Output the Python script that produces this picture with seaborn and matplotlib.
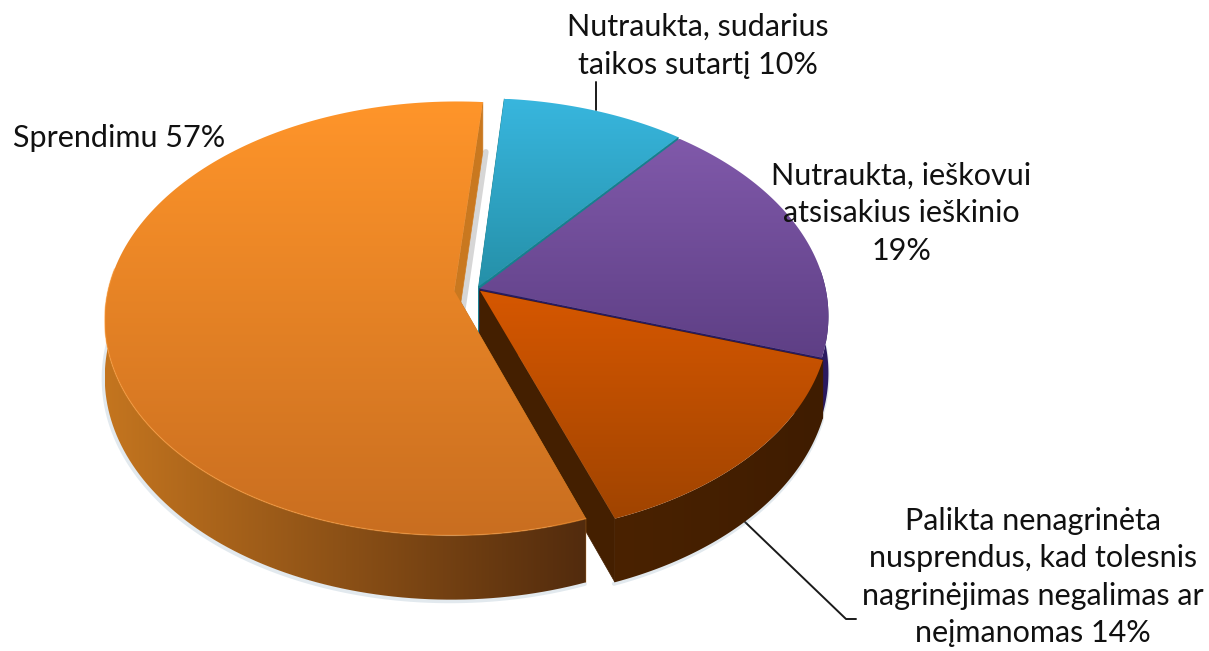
import numpy as np
import seaborn as sns
from matplotlib import pyplot as plt
from matplotlib.patches import Polygon

# slice shares measured from the drawn angles (the labels round them),
# counter-clockwise from the blue one
names = ["blue", "orange", "red", "purple"]
values = [9.6, 56.9, 14.4, 19.1]
explode = [0.012, 0.066, 0.012, 0.008]
start_angle = 50.6

top_colors = {
    "blue": ("#38b6de", "#2590a8"),
    "orange": ("#ff952a", "#c96e20"),
    "red": ("#d65700", "#a04400"),
    "purple": ("#8059aa", "#5e3f85"),
}
wall_colors = {
    "blue": ("#15808f", "#15808f"),
    "orange": ("#c4751f", "#522b0d"),
    "red": ("#4a2200", "#3f1c00"),
    "purple": ("#2a1a60", "#2a1a60"),
}

labels = [
    "Nutraukta, sudarius\ntaikos sutartį 10%",
    "Sprendimu 57%",
    "Palikta nenagrinėta\nnusprendus, kad tolesnis\nnagrinėjimas negalimas ar\nneįmanomas 14%",
    "Nutraukta, ieškovui\natsisakius ieškinio\n19%",
]
label_pos = [(698, 46), (119, 138), (1033, 577), (901, 213)]

# pixel placement of the tilted disc
CX, CY = 477, 289
RX, RY = 346, 213
TILT = 0.127
DEPTH = 56


def project(x, y):
    w = 1 + TILT * y
    return CX + RX * x / w, CY - RY * y / w


def drop(x, y):
    w = 1 + TILT * y
    return DEPTH / w


def slice_edges(wedge):
    t = np.radians(np.linspace(wedge.theta1, wedge.theta2, 160))
    ox, oy = wedge.center
    return ox + np.cos(t), oy + np.sin(t), ox, oy


def gradient_fill(ax, verts, colors, z, horizontal=False):
    grad = np.linspace(0, 1, 256).reshape(-1, 1)
    if horizontal:
        grad = grad.T
    cmap = sns.blend_palette(colors, as_cmap=True)
    im = ax.imshow(grad, cmap=cmap, aspect="auto", zorder=z,
                   extent=(verts[:, 0].min(), verts[:, 0].max(),
                           verts[:, 1].max(), verts[:, 1].min()))
    im.set_clip_path(Polygon(verts, transform=ax.transData))


def draw_slice(ax, wedge, name, z):
    x, y, ox, oy = slice_edges(wedge)
    sx, sy = project(x, y)
    dy = drop(x, y)
    ax_, ay_ = project(ox, oy)
    a_drop = drop(ox, oy)
    front = y < 0.1

    # straight walls running to the centre, the purple one only on its lower edge
    wall = wall_colors[name]
    side = sns.blend_palette(wall, 3)[1]
    if name == "orange":
        side = "#c9781f"
    for i in ((0,) if name == "purple" else (0, -1)):
        pts = [(sx[i], sy[i]), (sx[i], sy[i] + dy[i]), (ax_, ay_ + a_drop), (ax_, ay_)]
        ax.add_patch(Polygon(pts, fc=side, ec=side, lw=0.5, zorder=z + 1))
    if name == "orange":
        ax.plot([sx[0] + 3, ax_ + 3], [sy[0] + dy[0], ay_ + a_drop], color="#8a8a8a",
                lw=4, alpha=0.35, zorder=z)

    # rim, only the part that faces the viewer, shaded from left to right
    if front.any():
        fx, fy, fd = sx[front], sy[front], dy[front]
        # soft shadow under the rim
        ax.plot(fx - 1, fy + fd + 1.5, color="#6f93ad", lw=3, alpha=0.2, zorder=z)
        rim = np.column_stack([np.r_[fx, fx[::-1]], np.r_[fy, (fy + fd)[::-1]]])
        gradient_fill(ax, rim, wall, z + 2, horizontal=True)

    # top face with a vertical gradient
    verts = np.column_stack([np.r_[ax_, sx], np.r_[ay_, sy]])
    gradient_fill(ax, verts, top_colors[name], z + 3)
    if name == "orange":
        ax.plot(sx[front], sy[front], color="#ff9d3a", lw=1.0, alpha=0.5, zorder=z + 4)


sns.set_theme(style="white")
plt.rcParams["font.family"] = ["Lato", "DejaVu Sans"]

fig = plt.figure(figsize=(12.09, 6.51), dpi=100)
ax = fig.add_axes([0, 0, 1, 1])
wedges, _ = ax.pie(values, explode=explode, startangle=start_angle, counterclock=True)
slices = dict(zip(names, wedges))
for w in wedges:
    w.set_visible(False)

ax.set_aspect("auto")
ax.set_xlim(0, 1209)
ax.set_ylim(651, 0)
ax.set_autoscale_on(False)
ax.axis("off")

for n, name in enumerate(["blue", "purple", "red", "orange"]):
    draw_slice(ax, slices[name], name, 10 + n * 10)

# leader lines
ax.plot([596, 596], [82, 110], color="#1a1a1a", lw=1.4, zorder=5)
ax.plot([745, 846, 856], [522, 619, 619], color="#1a1a1a", lw=1.4, zorder=5)

for text, (tx, ty) in zip(labels, label_pos):
    ax.text(tx, ty, text, ha="center", va="center", fontsize=22, color="#111111",
            linespacing=1.42, zorder=100)

fig.savefig("out.png", dpi=100)
